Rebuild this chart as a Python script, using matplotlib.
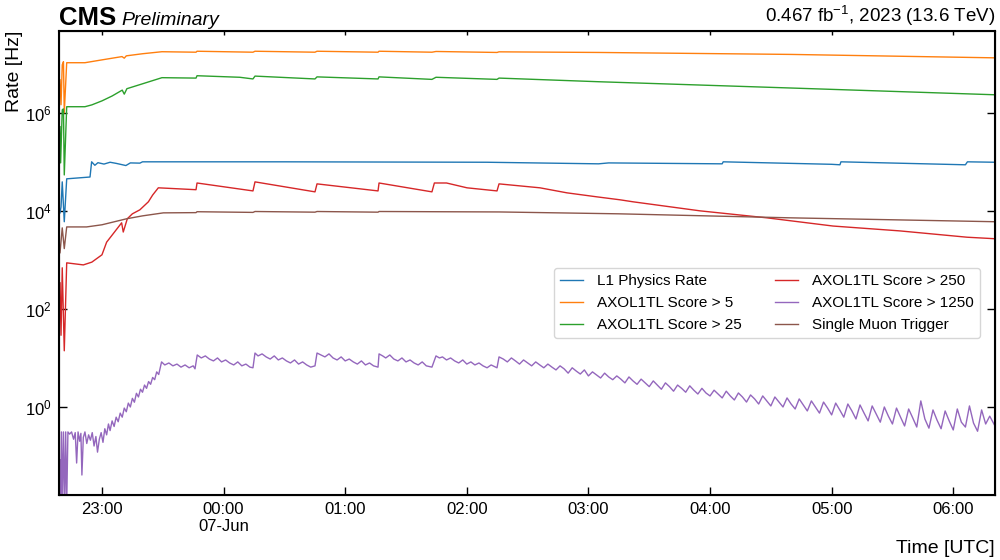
import datetime
import matplotlib
matplotlib.use("Agg")
import matplotlib.pyplot as plt
import matplotlib.dates as mdates
import matplotlib.ticker as mticker

plt.rcParams["font.family"] = ["Liberation Sans", "DejaVu Sans"]
plt.rcParams["mathtext.fontset"] = "custom"
plt.rcParams["mathtext.rm"] = "Liberation Sans"
plt.rcParams["mathtext.it"] = "Liberation Sans:italic"
plt.rcParams["mathtext.bf"] = "Liberation Sans:bold"

# (minutes after 2023-06-06 22:00 UTC, rate in Hz)
t_start, t_end = 38.8, 500.6

l1_points = [
    (39.3, 9.1e3), (39.8, 1.2e4), (40.4, 3.9e4), (41.4, 6.0e3), (42.6, 4.5e4),
    (54.1, 4.9e4), (54.9, 1.0e5), (56.5, 8.5e4), (58.0, 9.6e4), (61.0, 9.0e4),
    (64.0, 9.8e4), (67.0, 9.3e4), (71.8, 8.4e4), (74.0, 9.5e4), (78.7, 9.4e4),
    (80.0, 1.0e5), (150.0, 1.0e5), (250.0, 9.8e4), (305.0, 9.1e4), (310.0, 9.5e4),
    (366.0, 9.1e4), (366.5, 1.0e5), (420.0, 8.9e4), (424.1, 8.7e4), (424.6, 1.0e5),
    (486.0, 8.7e4), (487.0, 1.0e5), (500.6, 9.8e4),
]

s5_points = [
    (39.3, 4.7e6), (39.8, 1.46e6), (40.4, 9.5e6), (41.0, 1.1e7), (41.4, 1.0e6),
    (42.6, 1.05e7), (51.6, 1.05e7), (60.0, 1.2e7), (69.9, 1.4e7), (71.0, 1.3e7),
    (72.0, 1.45e7), (80.0, 1.6e7), (89.6, 1.76e7), (106.4, 1.72e7), (106.9, 1.8e7),
    (134.5, 1.72e7), (135.5, 1.8e7), (165.1, 1.72e7), (166.1, 1.8e7), (196.2, 1.72e7),
    (196.7, 1.8e7), (222.8, 1.72e7), (224.8, 1.78e7), (254.9, 1.7e7), (255.9, 1.75e7),
    (305.0, 1.7e7), (400.0, 1.55e7), (500.6, 1.32e7),
]

s25_points = [
    (39.3, 5.2e5), (39.6, 9.5e4), (40.4, 1.15e6), (41.0, 1.2e6), (41.4, 5.4e4),
    (42.6, 1.33e6), (51.6, 1.33e6), (55.0, 1.45e6), (60.0, 1.75e6), (65.0, 2.2e6),
    (70.0, 2.9e6), (71.0, 2.4e6), (72.3, 3.1e6), (80.0, 3.9e6), (89.6, 5.2e6),
    (106.4, 5.1e6), (106.9, 5.7e6), (128.0, 5.3e6), (134.5, 4.9e6), (135.5, 5.6e6),
    (165.1, 4.9e6), (166.1, 5.4e6), (196.2, 4.9e6), (196.7, 5.4e6), (222.8, 4.8e6),
    (224.8, 5.3e6), (254.9, 4.8e6), (255.9, 5.1e6), (305.0, 4.3e6), (400.0, 3.2e6),
    (500.6, 2.33e6),
]

s250_points = [
    (39.3, 340), (39.8, 29), (40.4, 690), (41.4, 14), (42.6, 870), (50.8, 790),
    (55.0, 900), (60.0, 1.27e3), (62.3, 2.3e3), (65.0, 3.2e3), (69.7, 5.7e3),
    (70.5, 3.7e3), (72.5, 6.9e3), (75.0, 8.7e3), (78.7, 1.05e4), (82.9, 1.53e4),
    (85.0, 2.1e4), (87.8, 2.95e4), (106.4, 2.7e4), (106.9, 3.7e4), (134.5, 2.55e4),
    (135.5, 3.9e4), (165.1, 2.44e4), (166.1, 3.55e4), (196.2, 2.55e4), (196.7, 3.7e4),
    (222.8, 2.44e4), (224.0, 3.7e4), (230.0, 3.7e4), (240.1, 2.95e4), (254.9, 2.55e4),
    (255.9, 3.55e4), (276.1, 2.95e4), (289.4, 2.33e4), (304.2, 1.93e4), (315.6, 1.68e4),
    (322.0, 1.53e4), (355.1, 1.0e4), (388.1, 7.2e3), (420.7, 4.9e3), (453.7, 3.9e3),
    (486.8, 2.9e3), (500.6, 2.7e3),
]

s1250_points = [
    (39.3, 0.083), (39.6, 0.01), (40.0, 0.31), (40.5, 0.01), (41.0, 0.31), (41.6, 0.01),
    (42.1, 0.31), (42.6, 0.01), (43.2, 0.31), (44.0, 0.28), (45.0, 0.31), (46.0, 0.22),
    (46.8, 0.30), (47.5, 0.072), (48.2, 0.31), (49.0, 0.20), (49.6, 0.29), (50.1, 0.041),
    (50.8, 0.24), (51.6, 0.31), (52.5, 0.18), (53.4, 0.27), (54.3, 0.21), (55.2, 0.30),
    (56.1, 0.16), (57.0, 0.25), (57.8, 0.12), (58.7, 0.22), (59.6, 0.30), (60.5, 0.19),
    (61.4, 0.36), (62.3, 0.27), (63.2, 0.45), (64.0, 0.33), (65.0, 0.52), (66.0, 0.40),
    (67.0, 0.62), (68.0, 0.50), (69.0, 0.75), (70.0, 0.62), (71.0, 0.95), (72.0, 0.80),
    (73.0, 1.2), (74.0, 1.0), (75.0, 1.5), (76.0, 1.25), (77.0, 1.9), (78.0, 1.6),
    (79.0, 2.3), (80.0, 2.0), (81.0, 2.8), (82.0, 2.4), (83.0, 3.3), (84.0, 2.9),
    (85.0, 4.0), (86.0, 3.6), (87.0, 5.2), (88.0, 4.6), (89.4, 8.3), (91.0, 7.2),
    (93.0, 7.9), (95.0, 6.9), (97.0, 7.5), (99.0, 6.5), (101.0, 7.2), (103.0, 6.3),
    (105.0, 6.9), (105.9, 6.0), (107.0, 11.5), (109.0, 10.0), (111.0, 11.0), (113.0, 9.5),
    (115.0, 8.7), (117.0, 10.0), (119.0, 8.3), (121.0, 9.1), (123.0, 7.9), (125.0, 7.2),
    (127.0, 8.3), (129.0, 6.9), (131.0, 7.5), (133.0, 6.5), (134.5, 6.3), (135.5, 12.6),
    (137.0, 11.0), (139.0, 12.1), (141.0, 10.5), (143.0, 9.5), (145.0, 11.0), (147.0, 9.1),
    (149.0, 10.0), (151.0, 8.7), (153.0, 7.9), (155.0, 9.1), (157.0, 7.5), (159.0, 8.3),
    (161.0, 7.2), (163.0, 6.5), (165.1, 6.9), (166.1, 12.6), (168.0, 11.5), (170.0, 10.5),
    (172.0, 12.1), (174.0, 10.0), (176.0, 9.1), (178.0, 10.5), (180.0, 8.7), (182.0, 9.5),
    (184.0, 8.3), (186.0, 7.5), (188.0, 8.7), (190.0, 7.2), (192.0, 7.9), (194.0, 6.9),
    (196.2, 6.5), (196.7, 12.1), (198.5, 11.0), (200.0, 10.0), (202.0, 11.5), (204.0, 9.5),
    (206.0, 8.7), (208.0, 10.0), (210.0, 8.3), (212.0, 9.1), (214.0, 7.9), (216.0, 7.2),
    (218.0, 8.3), (220.0, 6.9), (222.8, 6.5), (224.8, 11.0), (226.5, 10.0), (228.0, 10.5),
    (230.0, 9.1), (232.0, 10.0), (234.0, 8.7), (236.0, 7.9), (238.0, 9.1), (240.0, 7.5),
    (242.0, 8.3), (244.0, 7.2), (246.0, 7.9), (248.0, 6.9), (250.0, 6.3), (252.0, 7.2),
    (254.9, 6.3), (255.9, 10.5), (258.0, 9.5), (260.0, 8.3), (262.0, 10.0), (264.0, 8.7),
    (266.0, 7.5), (268.0, 9.1), (270.0, 7.9), (272.0, 6.9), (274.0, 8.3), (276.0, 7.2),
    (278.0, 6.3), (280.0, 7.5), (282.0, 6.5), (284.0, 5.7), (286.0, 6.9), (288.0, 6.0),
    (290.0, 4.9), (292.0, 6.3), (294.0, 5.4), (296.0, 4.7), (298.0, 5.7), (300.0, 4.3),
    (302.0, 5.2), (304.0, 4.5), (306.0, 3.9), (308.0, 4.9), (310.0, 4.1), (312.0, 3.6),
    (314.0, 4.3), (316.0, 3.7), (318.0, 3.1), (320.0, 4.1), (322.0, 3.4), (324.0, 2.9),
    (326.0, 3.7), (328.0, 3.1), (330.0, 2.6), (332.0, 3.4), (334.0, 2.8), (336.0, 2.3),
    (338.0, 3.1), (340.0, 2.6), (342.0, 2.1), (344.0, 2.8), (346.0, 2.4), (348.0, 2.0),
    (350.0, 2.7), (352.0, 2.2), (354.0, 1.84), (356.0, 2.4), (358.0, 1.93), (360.0, 1.68),
    (362.0, 2.2), (364.0, 1.84), (366.0, 1.53), (368.0, 2.1), (370.0, 1.68), (372.0, 1.39),
    (374.0, 1.93), (376.0, 1.6), (378.0, 1.26), (380.0, 1.76), (382.0, 1.46), (384.0, 1.15),
    (386.0, 1.68), (388.0, 1.33), (390.0, 1.05), (392.0, 1.6), (394.0, 1.26), (396.0, 1.0),
    (398.0, 1.53), (400.0, 1.15), (402.0, 0.91), (404.0, 1.46), (406.0, 1.1), (408.0, 0.83),
    (410.0, 1.33), (412.0, 1.0), (414.0, 0.75), (416.0, 1.26), (418.0, 0.95), (420.0, 0.69),
    (422.0, 1.2), (424.0, 0.87), (426.0, 0.62), (428.0, 1.15), (430.0, 0.83), (432.0, 0.57),
    (434.0, 1.1), (436.0, 0.75), (438.0, 0.52), (440.0, 1.05), (442.0, 0.72), (444.0, 0.49),
    (446.0, 1.0), (448.0, 0.65), (450.0, 0.45), (452.0, 0.95), (454.0, 0.62), (456.0, 0.41),
    (458.0, 0.91), (460.0, 0.60), (462.0, 0.39), (464.0, 1.33), (466.0, 0.57), (468.0, 0.37),
    (470.0, 0.87), (472.0, 0.54), (474.0, 0.36), (476.0, 0.83), (478.0, 0.52), (480.0, 0.34),
    (482.0, 0.91), (484.0, 0.49), (486.0, 0.39), (488.0, 1.05), (490.0, 0.47), (492.0, 0.32),
    (494.0, 0.87), (496.0, 0.45), (498.0, 0.65), (500.6, 0.41),
]

mu_points = [
    (39.3, 1.4e3), (40.4, 4.5e3), (41.4, 1.7e3), (42.6, 4.7e3), (52.4, 4.7e3),
    (60.0, 5.2e3), (72.2, 6.9e3), (80.0, 7.9e3), (90.3, 9.1e3), (106.4, 9.2e3),
    (106.9, 9.6e3), (134.5, 9.3e3), (135.5, 9.7e3), (165.1, 9.4e3), (166.1, 9.7e3),
    (196.2, 9.4e3), (196.7, 9.7e3), (224.8, 9.6e3), (255.9, 9.5e3), (315.0, 8.7e3),
    (400.0, 7.2e3), (500.6, 6.0e3),
]

series = [
    ("L1 Physics Rate", l1_points, "tab:blue"),
    ("AXOL1TL Score > 5", s5_points, "tab:orange"),
    ("AXOL1TL Score > 25", s25_points, "tab:green"),
    ("AXOL1TL Score > 250", s250_points, "tab:red"),
    ("AXOL1TL Score > 1250", s1250_points, "tab:purple"),
    ("Single Muon Trigger", mu_points, "tab:brown"),
]

t0 = datetime.datetime(2023, 6, 6, 22, 0)


def to_time(minutes):
    return [t0 + datetime.timedelta(minutes=m) for m in minutes]


fig = plt.figure(figsize=(10, 5.6), dpi=100)
ax = fig.add_axes([0.059, 0.116, 0.936, 0.829])

for label, points, color in series:
    t, rate = zip(*points)
    ax.plot(to_time(t), rate, color=color, lw=1.0, label=label)

ax.set_yscale("log")
ax.set_ylim(0.016, 4.7e7)
ax.set_xlim(to_time([t_start, t_end]))
ax.set_yticks([1e0, 1e2, 1e4, 1e6])
ax.yaxis.set_major_formatter(mticker.LogFormatterSciNotation())
ax.yaxis.set_minor_locator(mticker.NullLocator())


def time_fmt(x, pos):
    d = mdates.num2date(x)
    if d.hour == 0:
        return d.strftime("%H:%M\n%d-%b")
    return d.strftime("%H:%M")


ax.xaxis.set_major_locator(mdates.HourLocator())
ax.xaxis.set_major_formatter(mticker.FuncFormatter(time_fmt))
ax.xaxis.set_minor_locator(mticker.NullLocator())
ax.tick_params(axis="both", direction="in", length=5.8, width=1.0, labelsize=12,
               right=True, top=False, pad=5)
for sp in ax.spines.values():
    sp.set_linewidth(1.5)

# shorter ticks along the top edge
axt = ax.twiny()
axt.set_xlim(ax.get_xlim())
axt.xaxis.set_major_locator(mdates.HourLocator())
axt.xaxis.set_minor_locator(mticker.NullLocator())
axt.tick_params(axis="x", direction="in", length=3.2, width=1.0, labeltop=False)

ax.set_ylabel("Rate [Hz]", loc="top", fontsize=14, labelpad=2)
ax.set_xlabel("Time [UTC]", loc="right", fontsize=14)

ax.legend(ncol=2, loc="upper right", bbox_to_anchor=(0.984, 0.489), borderaxespad=0,
          fontsize=11, handlelength=1.5, handletextpad=0.9, columnspacing=2.2,
          labelspacing=0.52, framealpha=0.8, edgecolor="0.8")

ax.text(0.0, 1.012, "CMS", transform=ax.transAxes, fontsize=18.5, fontweight="bold",
        va="baseline", ha="left")
ax.text(0.067, 1.012, "Preliminary", transform=ax.transAxes, fontsize=14,
        style="italic", va="baseline", ha="left")
ax.text(1.0, 1.019, r"0.467 fb$^{-1}$, 2023 (13.6 TeV)", transform=ax.transAxes,
        fontsize=13.5, va="baseline", ha="right")

fig.savefig("out.png", dpi=100)
